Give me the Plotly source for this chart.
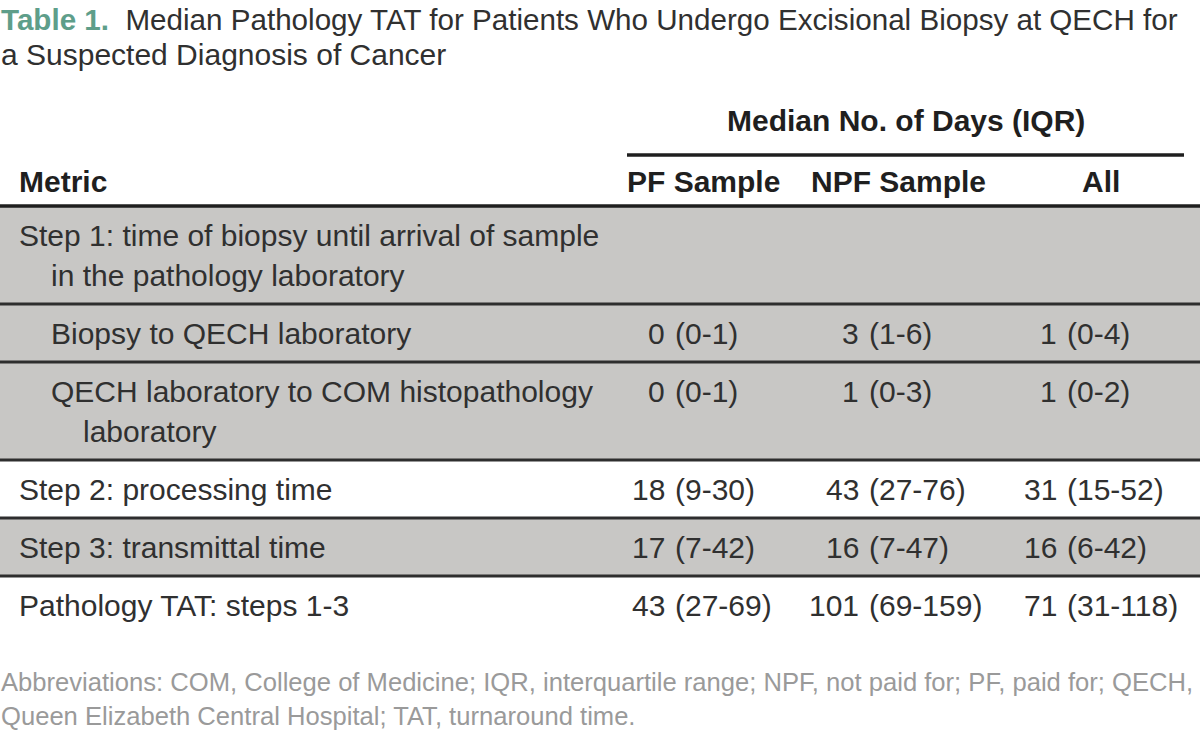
import plotly.graph_objects as go

# ---------------- data ----------------
title_label = "Table 1."
title_lines = [
    "Median Pathology TAT for Patients Who Undergo Excisional Biopsy at QECH for",
    "a Suspected Diagnosis of Cancer",
]
spanner = "Median No. of Days (IQR)"
col_headers = ["Metric", "PF Sample", "NPF Sample", "All"]

metric_lines = [
    ["Step 1: time of biopsy until arrival of sample", "in the pathology laboratory"],
    ["Biopsy to QECH laboratory"],
    ["QECH laboratory to COM histopathology", "laboratory"],
    ["Step 2: processing time"],
    ["Step 3: transmittal time"],
    ["Pathology TAT: steps 1-3"],
]
metric_level = [0, 1, 1, 0, 0, 0]
shaded = [True, True, True, False, True, False]

pf_values = ["", "0 (0-1)", "0 (0-1)", "18 (9-30)", "17 (7-42)", "43 (27-69)"]
npf_values = ["", "3 (1-6)", "1 (0-3)", "43 (27-76)", "16 (7-47)", "101 (69-159)"]
all_values = ["", "1 (0-4)", "1 (0-2)", "31 (15-52)", "16 (6-42)", "71 (31-118)"]

footnote_lines = [
    "Abbreviations: COM, College of Medicine; IQR, interquartile range; NPF, not paid for; PF, paid for; QECH,",
    "Queen Elizabeth Central Hospital; TAT, turnaround time.",
]

# ---------------- style / layout ----------------
W, H = 1200, 736
FONT = "Liberation Sans, Arial, sans-serif"
FS = 30
TXT = "#303030"
HDR = "#1f1f1f"
TEAL = "#5E9E8A"
GRAY_FILL = "#C8C7C5"
RULE = "#2e2e2e"
FOOT = "#9a9a9a"

TABLE_TOP = 206
LINE_H = 40
PAD = 18
FIRST = 29
X_LEFT = 18
INDENT = 32
PAREN_X = [674, 868, 1066]      # alignment point of "(" in each value column
HDR_X = [703, 898, 1101]

fig = go.Figure()
ann = []
shapes = []


def add_text(x, y, text, size=FS, color=TXT, xanchor="left", bold=False):
    if bold:
        text = "<b>" + text + "</b>"
    ann.append(dict(x=x, y=y, xref="x", yref="y", text=text, showarrow=False,
                    xanchor=xanchor, yanchor="middle", borderpad=0,
                    font=dict(family=FONT, size=size, color=color)))


# title
add_text(0, 19, f"<span style='color:{TEAL}'><b>{title_label}</b></span>&nbsp;&nbsp;{title_lines[0]}",
         size=29.6)
add_text(0, 54, title_lines[1])

# spanner header
add_text(906, 120, spanner, color=HDR, xanchor="center", bold=True)
shapes.append(dict(type="line", xref="x", yref="y", x0=627, x1=1184, y0=155, y1=155,
                   line=dict(color="#1f1f1f", width=3.5)))

# column headers
add_text(X_LEFT, 181, col_headers[0], color=HDR, bold=True)
for cx, h in zip(HDR_X, col_headers[1:]):
    add_text(cx, 181, h, color=HDR, xanchor="center", bold=True)

# rows
top = TABLE_TOP
bounds = []
for i, lines in enumerate(metric_lines):
    bottom = top + PAD + LINE_H * len(lines)
    bounds.append((top, bottom))
    if shaded[i]:
        shapes.append(dict(type="rect", xref="x", yref="y", x0=0, x1=W, y0=top, y1=bottom,
                           fillcolor=GRAY_FILL, line=dict(width=0), layer="below"))
    for j, ln in enumerate(lines):
        x = X_LEFT + INDENT * metric_level[i] + (INDENT if j > 0 else 0)
        add_text(x, top + FIRST + LINE_H * j, ln)
    for px, col in zip(PAREN_X, (pf_values, npf_values, all_values)):
        v = col[i]
        if not v:
            continue
        med, iqr = v.split(" (", 1)
        y = top + FIRST
        add_text(px - 8, y, med, xanchor="right")
        add_text(px, y, "(" + iqr, xanchor="left")
    top = bottom

# rules
shapes.append(dict(type="line", xref="x", yref="y", x0=0, x1=W, y0=TABLE_TOP, y1=TABLE_TOP,
                   line=dict(color="#1f1f1f", width=3.5)))
for (t, b) in bounds[:-1]:
    shapes.append(dict(type="line", xref="x", yref="y", x0=0, x1=W, y0=b, y1=b,
                       line=dict(color=RULE, width=3)))

# footnote
add_text(0, 682, footnote_lines[0], size=25.6, color=FOOT)
add_text(0, 716, footnote_lines[1], size=25.6, color=FOOT)

fig.update_layout(
    width=W, height=H,
    margin=dict(l=0, r=0, t=0, b=0),
    paper_bgcolor="white", plot_bgcolor="white",
    xaxis=dict(range=[0, W], visible=False, fixedrange=True),
    yaxis=dict(range=[H, 0], visible=False, fixedrange=True),
    annotations=ann, shapes=shapes, showlegend=False,
)
fig.write_html(
    "out.html",
    config={"displayModeBar": False},
    post_script="document.documentElement.style.margin='0';document.body.style.margin='0';"
                "document.body.style.overflow='hidden';",
)
